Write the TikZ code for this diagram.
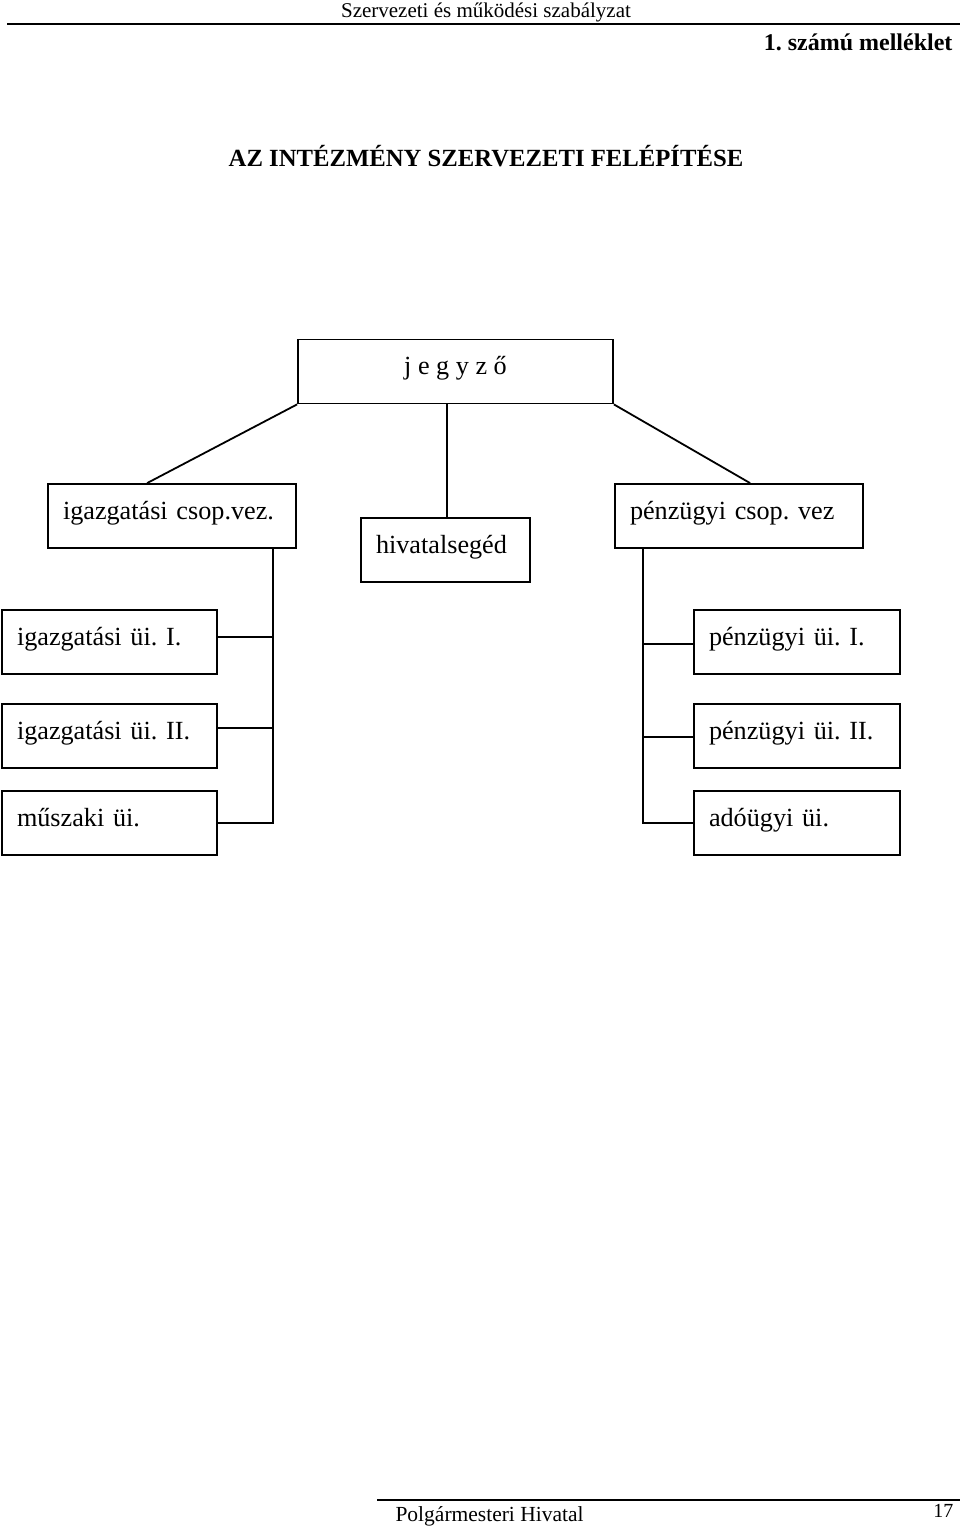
\documentclass[tikz,border=0pt]{standalone}
\usepackage{fontspec}
\setmainfont{Liberation Serif}
\frenchspacing
\begin{document}
\begin{tikzpicture}[x=1pt,y=-1pt,
  box/.style={draw, line width=1.8pt, minimum height=64pt, inner xsep=15pt, inner ysep=0pt,
    text height=14pt, text depth=8pt,
    align=left, font=\fontsize{26.2}{28}\selectfont},
  wire/.style={line width=1.8pt},
  rule/.style={line width=1.2pt}]
\useasboundingbox (0,0) rectangle (960,1526);
% header / footer
\node[anchor=base, font=\fontsize{21}{24}\selectfont] (hdr) at (486,17) {Szervezeti és működési szabályzat};
\coordinate (hl1) at (7,24); \coordinate (hl2) at (960,24);
\draw[line width=1.6pt] (hl1) -- (hl2);
\node[anchor=base east, font=\bfseries\fontsize{24}{26}\selectfont] (mell) at (956,50) {1. számú melléklet};
\node[anchor=base, font=\bfseries\fontsize{24.7}{28}\selectfont] (title) at (486,166) {AZ INTÉZMÉNY SZERVEZETI FELÉPÍTÉSE};
\coordinate (fl1) at (377,1500); \coordinate (fl2) at (960,1500);
\draw[rule] (fl1) -- (fl2);
\node[anchor=base west, font=\fontsize{21.5}{24}\selectfont] (ftr) at (392,1521) {Polgármesteri Hivatal};
\node[anchor=base east, font=\fontsize{20}{24}\selectfont] (pg) at (957,1517) {17};
% boxes
\node[box, minimum width=315pt, align=center] (jeg) at (455.5,371.5) {j e g y z ő};
\node[box, text width=218pt] (igcs) at (172,516) {igazgatási csop.vez.};
\node[box, text width=139pt] (hiv) at (445.5,550) {hivatalsegéd};
\node[box, text width=218pt] (pcs) at (739,516) {pénzügyi csop. vez};
\node[box, text width=185pt] (ig1) at (109.5,642) {igazgatási üi. I.};
\node[box, text width=185pt] (ig2) at (109.5,736) {igazgatási üi. II.};
\node[box, text width=185pt] (musz) at (109.5,823) {műszaki üi.};
\node[box, text width=176pt] (p1) at (797,642) {pénzügyi üi. I.};
\node[box, text width=176pt] (p2) at (797,736) {pénzügyi üi. II.};
\node[box, text width=176pt] (ado) at (797,823) {adóügyi üi.};
% connectors from jegyző
\draw[wire] (jeg.south west) -- ([xshift=100pt]igcs.north west);
\draw[wire] (jeg.south east) -- ([xshift=136pt]pcs.north west);
\draw[wire] ([xshift=1.5pt]hiv.north) -- ([xshift=1.5pt]hiv.north |- jeg.south);
% left bus
\coordinate (lbus) at (273,823);
\draw[wire] (igcs.south -| lbus) -- (lbus) -- (musz.east);
\draw[wire] ([yshift=5pt]ig1.east) -- ([yshift=5pt]ig1.east -| lbus);
\draw[wire] ([yshift=8pt]ig2.east) -- ([yshift=8pt]ig2.east -| lbus);
% right bus
\coordinate (rbus) at (643,823);
\draw[wire] (pcs.south -| rbus) -- (rbus) -- (ado.west);
\draw[wire] ([yshift=-2pt]p1.west) -- ([yshift=-2pt]p1.west -| rbus);
\draw[wire] ([yshift=-1pt]p2.west) -- ([yshift=-1pt]p2.west -| rbus);
\end{tikzpicture}
\end{document}
